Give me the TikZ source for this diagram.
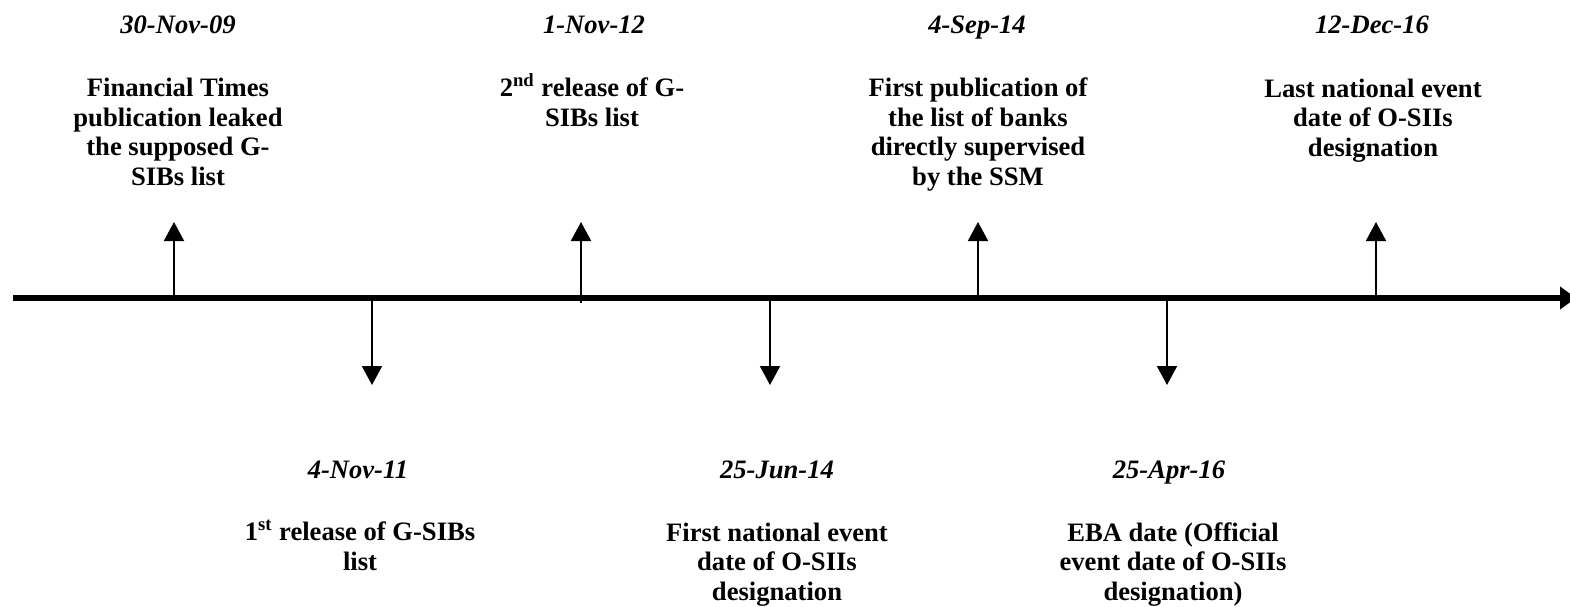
\documentclass[tikz,border=0pt]{standalone}
\usepackage{fontspec}
\setmainfont{Liberation Serif}
\usetikzlibrary{arrows.meta}
\begin{document}
\begin{tikzpicture}[x=0.5pt,y=-0.5pt,
  datelbl/.style={font=\fontsize{13.3}{14.75}\selectfont\bfseries\itshape, inner sep=0pt, anchor=base},
  desclbl/.style={font=\fontsize{13.3}{14.75}\selectfont\bfseries, inner sep=0pt, align=center, anchor=base},
  axisline/.style={line width=3pt, -{Triangle[width=11pt,length=8pt]}},
  tick/.style={line width=1pt, -{Triangle[width=10pt,length=9.5pt]}}]
\useasboundingbox (0,0) rectangle (1570,606);
% axis
\coordinate (start) at (13,298);
\coordinate (end) at (1576,298);
\draw[axisline] (start) -- (end);
% base points and tips
\coordinate (b1) at (174,298);  \coordinate (h1) at (174,222);
\coordinate (b2) at (372,298);  \coordinate (h2) at (372,385);
\coordinate (b3) at (581,303);  \coordinate (h3) at (581,222);
\coordinate (b4) at (770,298);  \coordinate (h4) at (770,385);
\coordinate (b5) at (978,298);  \coordinate (h5) at (978,222);
\coordinate (b6) at (1167,298); \coordinate (h6) at (1167,385);
\coordinate (b7) at (1376,298); \coordinate (h7) at (1376,222);
\foreach \i in {1,...,7}{\draw[tick] (b\i) -- (h\i);}
% top labels (base anchor = baseline of last line)
\node[datelbl] (d1) at (178,33) {30-Nov-09};
\node[desclbl] (t1) at (178,185) {Financial Times\\publication leaked\\the supposed G-\\SIBs list};
\node[datelbl] (d3) at (594,33) {1-Nov-12};
\node[desclbl] (t3) at (592,126) {2\textsuperscript{nd} release of G-\\SIBs list};
\node[datelbl] (d5) at (977,33) {4-Sep-14};
\node[desclbl] (t5) at (978,185) {First publication of\\the list of banks\\directly supervised\\by the SSM};
\node[datelbl] (d7) at (1372,33) {12-Dec-16};
\node[desclbl] (t7) at (1373,156) {Last national event\\date of O-SIIs\\designation};
% bottom labels
\node[datelbl] (d2) at (358,478) {4-Nov-11};
\node[desclbl] (t2) at (360,570) {1\textsuperscript{st} release of G-SIBs\\list};
\node[datelbl] (d4) at (777,478) {25-Jun-14};
\node[desclbl] (t4) at (777,600) {First national event\\date of O-SIIs\\designation};
\node[datelbl] (d6) at (1169,478) {25-Apr-16};
\node[desclbl] (t6) at (1173,600) {EBA date (Official\\event date of O-SIIs\\designation)};
\end{tikzpicture}
\end{document}
